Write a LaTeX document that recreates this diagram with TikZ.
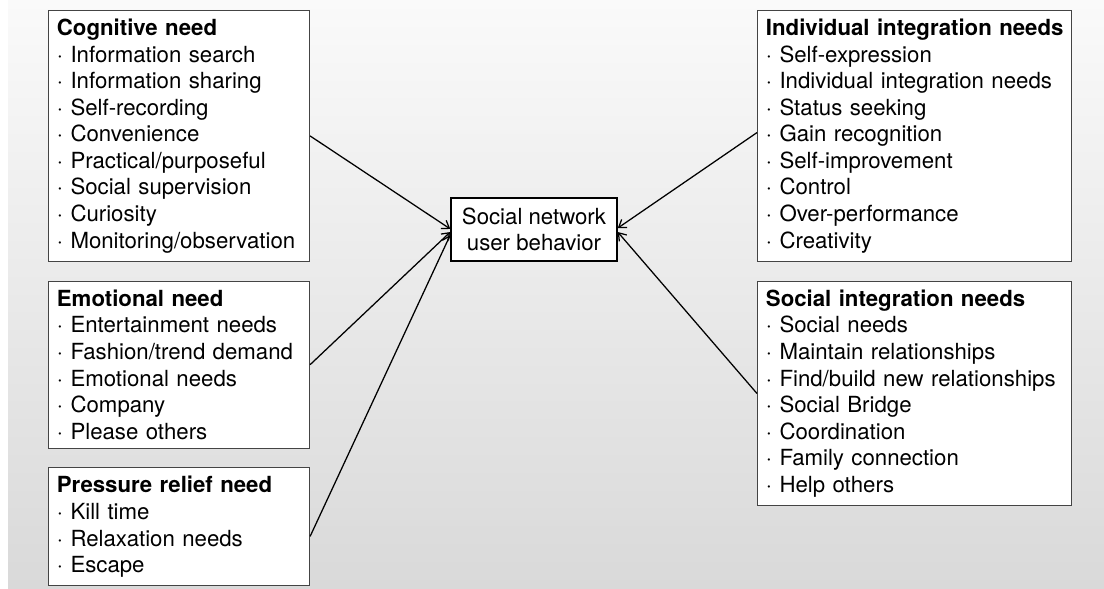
\documentclass[tikz,border=0pt]{standalone}
\usepackage{fontspec}
\setmainfont{TeX Gyre Heros}
\usetikzlibrary{arrows.meta,positioning}
\definecolor{boxline}{HTML}{444444}
\definecolor{bgtop}{HTML}{FAFAFA}
\definecolor{bgbottom}{HTML}{D9D9D9}

\begin{document}
\begin{tikzpicture}[x=0.025cm,y=-0.025cm,
			need/.style={draw=boxline,line width=0.7pt,fill=white,align=left,inner xsep=6pt,inner ysep=6pt,font=\fontsize{15.8}{18.9}\selectfont},
			leftneed/.style={need,text width=173.7pt},
			rightneed/.style={need,text width=211.2pt},
			core/.style={draw=black,line width=1.5pt,fill=white,minimum width=117.6pt,minimum height=44.6pt,inner sep=0pt,align=center,font=\fontsize{15.8}{18.4}\selectfont},
			link/.style={-{Straight Barb[length=5pt,width=7pt]},line width=0.9pt}
			]
			\fill[white] (0,0) rectangle (1104,588);
			\shade[top color=bgtop,bottom color=bgbottom] (8,0) rectangle (1104,588);
			% left column
			\node[leftneed,anchor=north west] (cog) at (48,10) {\mbox{\textbf{Cognitive need}}\\ ·~Information search\\ ·~Information sharing\\ ·~Self-recording\\ ·~Convenience\\ ·~Practical/purposeful\\ ·~Social supervision\\ ·~Curiosity\\ ·~Monitoring/observation};
			\node[leftneed,below right=13.5pt and 0pt of cog.south west] (emo) {\mbox{\textbf{Emotional need}}\\ ·~Entertainment needs\\ ·~Fashion/trend demand\\ ·~Emotional needs\\ ·~Company\\ ·~Please others};
			\node[leftneed,below right=13.5pt and 0pt of emo.south west] (pres) {\mbox{\textbf{Pressure relief need}}\\ ·~Kill time\\ ·~Relaxation needs\\ ·~Escape};
			% right column
			\node[rightneed,anchor=north west] (ind) at (757,10) {\mbox{\textbf{Individual integration needs}}\\ ·~Self-expression\\ ·~Individual integration needs\\ ·~Status seeking\\ ·~Gain recognition\\ ·~Self-improvement\\ ·~Control\\ ·~Over-performance\\ ·~Creativity};
			\node[rightneed,below right=13.5pt and 0pt of ind.south west] (soc) {\mbox{\textbf{Social integration needs}}\\ ·~Social needs\\ ·~Maintain relationships\\ ·~Find/build new relationships\\ ·~Social Bridge\\ ·~Coordination\\ ·~Family connection\\ ·~Help others};
			% centre
			\node[core] (snub) at (534,229.5) {Social network\\ user behavior};
			\draw[link] (cog.east) -- ([yshift=0.4pt]snub.west);
			\draw[link] (emo.east) -- ([yshift=-1.8pt]snub.west);
			\draw[link] ([yshift=-6.7pt]pres.east) -- ([yshift=-3.9pt]snub.west);
			\draw[link] ([yshift=2.4pt]ind.west) -- ([yshift=1pt]snub.east);
			\draw[link] (soc.west) -- ([yshift=-1.8pt]snub.east);
		\end{tikzpicture}
\end{document}
